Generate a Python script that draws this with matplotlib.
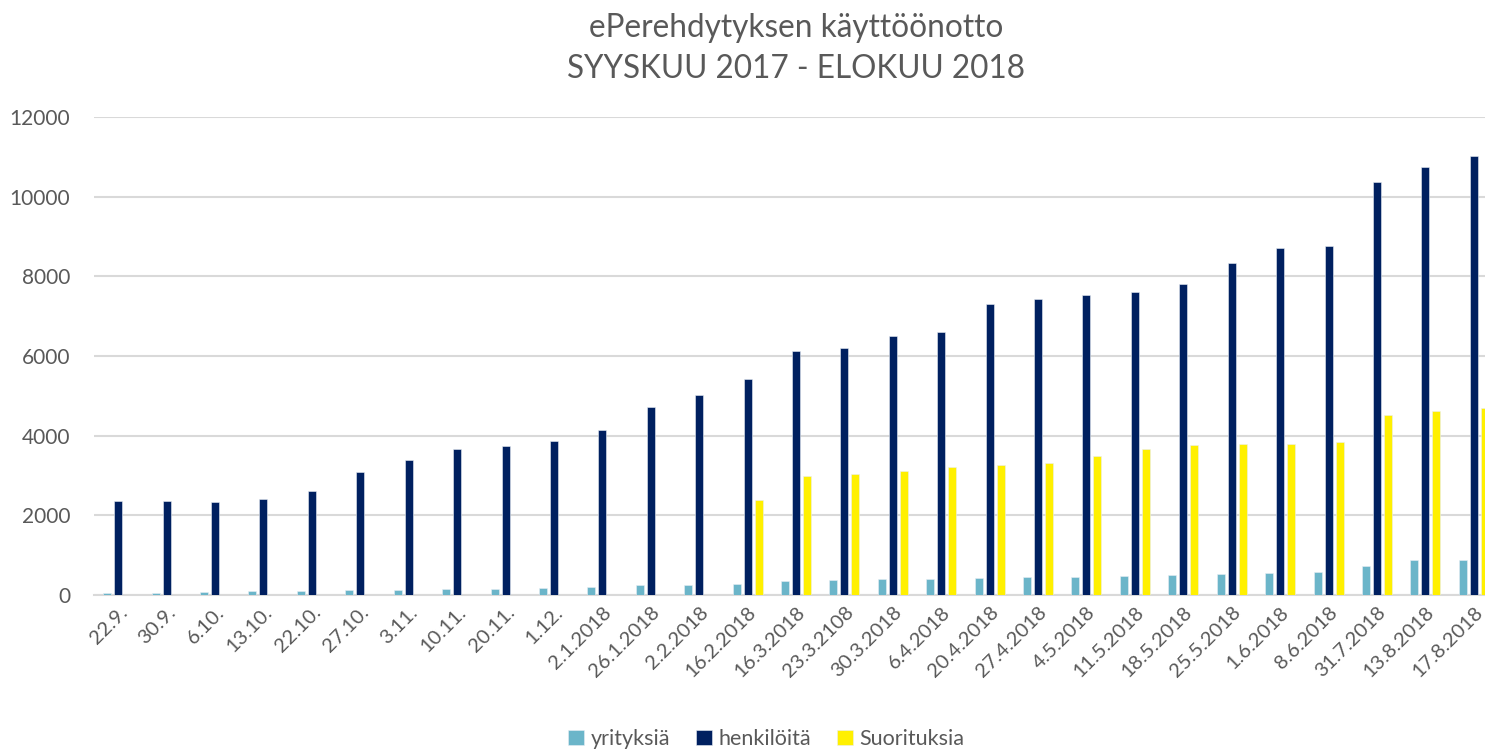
import matplotlib
matplotlib.use("Agg")
import matplotlib.pyplot as plt
import numpy as np

categories = ["22.9.", "30.9.", "6.10.", "13.10.", "22.10.", "27.10.", "3.11.", "10.11.",
              "20.11.", "1.12.", "2.1.2018", "26.1.2018", "2.2.2018", "16.2.2018",
              "16.3.2018", "23.3.2108", "30.3.2018", "6.4.2018", "20.4.2018", "27.4.2018",
              "4.5.2018", "11.5.2018", "18.5.2018", "25.5.2018", "1.6.2018", "8.6.2018",
              "31.7.2018", "13.8.2018", "17.8.2018"]

yrityksia = [55, 62, 78, 95, 110, 115, 120, 142, 151, 167, 192, 251, 259, 284, 360,
             385, 393, 401, 427, 443, 460, 477, 502, 527, 552, 577, 728, 870, 887]

henkiloita = [2360, 2370, 2330, 2400, 2600, 3100, 3390, 3660, 3730, 3870, 4150, 4720,
              5010, 5430, 6120, 6190, 6490, 6600, 7310, 7420, 7520, 7610, 7810, 8340,
              8700, 8760, 10360, 10745, 11010]

suorituksia = [0, 0, 0, 0, 0, 0, 0, 0, 0, 0, 0, 0, 0, 2385, 2980, 3045, 3120, 3205,
               3265, 3315, 3490, 3660, 3760, 3790, 3790, 3840, 4510, 4620, 4690]

series_names = ["yrityksiä", "henkilöitä", "Suorituksia"]
colors = ["#6BB5C9", "#002060", "#FFF000"]

plt.rcParams['font.family'] = ['Lato', 'DejaVu Sans']

W, H = 1485, 750
fig = plt.figure(figsize=(W / 100, H / 100), dpi=100)
ax = fig.add_axes([94 / W, 1 - 595 / H, 1404 / W, (595 - 117) / H])

x = np.arange(len(categories))
bw = 0.165
off = 0.227
for i, (vals, c, name) in enumerate(zip([yrityksia, henkiloita, suorituksia], colors, series_names)):
    ax.bar(x + (i - 1) * off, vals, width=bw, color=c, label=name,
           edgecolor="#E8EEF4", linewidth=0.4, zorder=3)

ax.set_xlim(-0.5, len(categories) - 0.5)
ax.set_ylim(0, 12000)
ax.set_yticks(np.arange(0, 12001, 2000))
ax.yaxis.grid(True, color="#D9D9D9", linewidth=1.5, zorder=0)
ax.set_axisbelow(True)
for s in ["top", "right", "left"]:
    ax.spines[s].set_visible(False)
ax.spines["bottom"].set_color("#D9D9D9")
ax.spines["bottom"].set_linewidth(1.5)

ax.tick_params(axis="y", length=0, pad=17, labelsize=15, labelcolor="#595959")
ax.tick_params(axis="x", length=0, pad=6, labelsize=14.5, labelcolor="#595959")
ax.set_xticks(x)
ax.set_xticklabels(categories, rotation=45, ha="right", rotation_mode="anchor")

ax.set_title("ePerehdytyksen käyttöönotto\nSYYSKUU 2017 - ELOKUU 2018",
             fontsize=22.7, color="#595959", pad=28, linespacing=1.45)

fig.legend(loc="center", bbox_to_anchor=(766 / W, 1 - 739 / H), ncol=3, frameon=False,
           fontsize=15.5, labelcolor="#595959", handlelength=0.75, handleheight=0.75,
           handletextpad=0.3, columnspacing=1.2)

fig.savefig("out.png", dpi=100)
